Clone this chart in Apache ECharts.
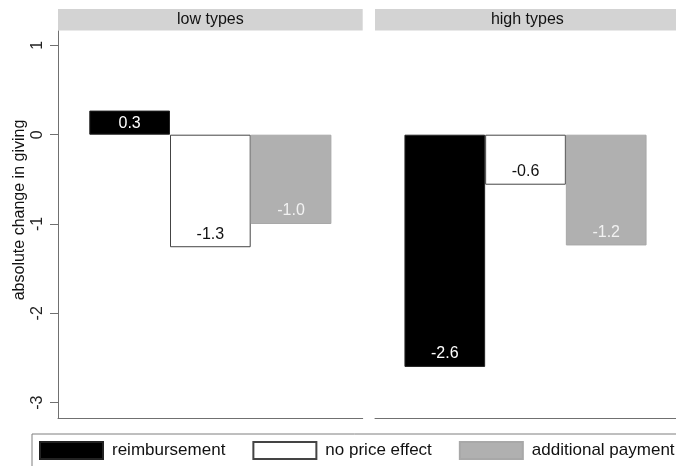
<!DOCTYPE html>
<html>
<head>
<meta charset="utf-8">
<script src="https://cdn.jsdelivr.net/npm/echarts@6/dist/echarts.min.js"></script>
<style>
html,body{margin:0;padding:0;background:#fff;}
#chart{width:676px;height:466px;}
</style>
</head>
<body>
<div id="chart"></div>
<script>
// ---- data ----
const panels = ['low types', 'high types'];
const seriesNames = ['reimbursement', 'no price effect', 'additional payment'];
const lowValues = [0.27, -1.26, -1.0];
const highValues = [-2.6, -0.56, -1.24];
const yTicks = [-3, -2, -1, 0, 1];
const yTitle = 'absolute change in giving';

// ---- styles ----
const FONT = 'Liberation Sans, Arial, sans-serif';
const fills = ['#000000', '#ffffff', '#b0b0b0'];
const borders = ['#222222', '#444444', '#a8a8a8'];
const labelColors = ['#ffffff', '#111111', '#f2f2f2'];
const axisGray = '#707070';
const yMin = -3.172, yMax = 1.161;
const gridTop = 31, gridHeight = 387, gridWidth = 304.7;
const gridLefts = [58, 375];

const panelValues = [lowValues, highValues];

const grids = gridLefts.map(l => ({left: l, top: gridTop, width: gridWidth, height: gridHeight}));
const xAxes = panels.map((p, i) => ({
  type: 'category', gridIndex: i, data: [p],
  axisLine: {show: true, onZero: false, lineStyle: {color: axisGray, width: 1}},
  axisTick: {show: false}, axisLabel: {show: false}, splitLine: {show: false}
}));
const yAxes = panels.map((p, i) => ({
  type: 'value', gridIndex: i, min: yMin, max: yMax, show: i === 0,
  axisLine: {show: true, lineStyle: {color: axisGray, width: 1}},
  axisTick: {show: true, length: 8, lineStyle: {color: axisGray}, customValues: yTicks},
  axisLabel: {show: true, rotate: 90, margin: 12, fontSize: 16, fontFamily: FONT, color: '#222', customValues: yTicks},
  splitLine: {show: false}
}));

const series = [];
panelValues.forEach((vals, p) => {
  vals.forEach((v, i) => {
    series.push({
      type: 'bar', name: seriesNames[i], xAxisIndex: p, yAxisIndex: p,
      barWidth: 80.7, barGap: '0%',
      itemStyle: {color: fills[i], borderColor: borders[i], borderWidth: 1},
      label: {show: true, fontSize: 16, fontFamily: FONT, color: labelColors[i], distance: 5,
        formatter: d => d.value.toFixed(1)},
      data: [{value: v, label: {position: v >= 0 ? 'insideTop' : 'insideBottom'}}]
    });
  });
});

const graphics = [];
panels.forEach((p, i) => {
  graphics.push({type: 'rect', left: gridLefts[i], top: 9, shape: {width: gridWidth, height: 21.5},
    style: {fill: '#d3d3d3'}, silent: true});
  graphics.push({type: 'text', x: gridLefts[i] + gridWidth / 2, y: 20,
    style: {text: p, fontSize: 16, fontFamily: FONT, fill: '#111', align: 'center', verticalAlign: 'middle'}});
});
graphics.push({type: 'text', x: 20, y: 210, rotation: Math.PI / 2,
  style: {text: yTitle, fontSize: 16, fontFamily: FONT, fill: '#111', align: 'center', verticalAlign: 'middle'}});

const chart = echarts.init(document.getElementById('chart'), null, {renderer: 'canvas'});
chart.setOption({
  animation: false,
  backgroundColor: '#ffffff',
  grid: grids,
  xAxis: xAxes,
  yAxis: yAxes,
  legend: {
    data: seriesNames, left: 32, top: 434, width: 720,
    orient: 'horizontal', icon: 'rect', itemWidth: 63, itemHeight: 17, itemGap: 27,
    padding: [7, 30, 7, 7], borderColor: '#7f7f7f', borderWidth: 1, borderRadius: 0,
    textStyle: {fontSize: 17, fontFamily: FONT, color: '#111', padding: [0, 0, 0, 4]}
  },
  graphic: graphics,
  series: series
});
</script>
</body>
</html>
